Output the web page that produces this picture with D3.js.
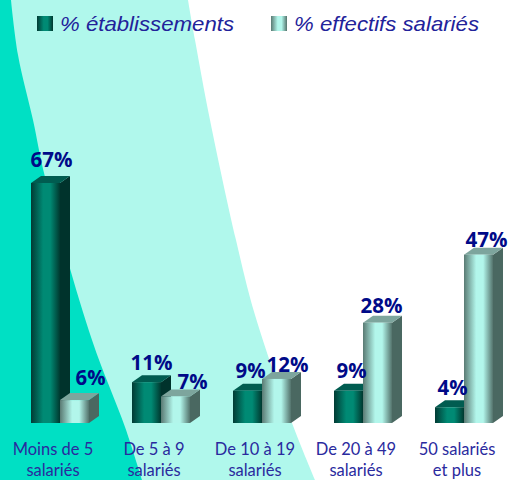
<!DOCTYPE html>
<html>
<head>
<meta charset="utf-8">
<script src="https://cdn.jsdelivr.net/npm/d3@7"></script>
<style>
  html, body { margin: 0; padding: 0; background: #fff; }
  svg { display: block; }
</style>
</head>
<body>
<div id="container"></div>
<script>
/* DATA */
const categories = ["Moins de 5 salariés", "De 5 à 9 salariés", "De 10 à 19 salariés", "De 20 à 49 salariés", "50 salariés et plus"];
const seriesNames = ["% établissements", "% effectifs salariés"];
const etablissements = [67, 11.4, 9, 9, 4.4];
const effectifs = [6.4, 7.4, 12.3, 28, 47];

/* CONSTANTS AND GLOBALS */
const width = 510,
  height = 480,
  baseY = 423,
  depthX = 10,
  depthY = 7;

const palette = [
  {stops: ["#013b34", "#008a74", "#00382f"], top: "#005c50", side: "#00332c"},
  {stops: ["#5a7a73", "#b2f6eb", "#54736c"], top: "#7da59d", side: "#4a6861"}
];

// label nudges, one per bar, the picture does not centre them
const labelDx = [[6, 16], [5, 17], [3, 11], [3, 4], [3, 8]];
const labelDy = [[16, 15], [12, 7], [13, 7], [13, 10], [12, 8]];

const svg = d3.select("#container")
  .append("svg")
  .attr("width", width)
  .attr("height", height);

/* BACKGROUND */
const curve = d3.line().curve(d3.curveCatmullRom);
const lightEdge = [[188, 0], [195, 40], [210, 120], [236, 240], [255, 315], [292, 423], [315, 480]];
const darkEdge = [[11, 0], [18, 55], [33, 120], [45, 177], [92, 340], [125, 427], [142, 480]];

svg.append("rect").attr("width", width).attr("height", height).attr("fill", "#fff");
svg.append("path")
  .attr("d", curve(lightEdge) + "L0,480L0,0Z")
  .attr("fill", "#b0f8ec");
svg.append("path")
  .attr("d", curve(darkEdge) + "L0,480L0,0Z")
  .attr("fill", "#00e0c4");

/* GRADIENTS */
const defs = svg.append("defs");
palette.forEach((p, i) => {
  const g = defs.append("linearGradient").attr("id", "front" + i);
  g.append("stop").attr("offset", "0%").attr("stop-color", p.stops[0]);
  g.append("stop").attr("offset", "42%").attr("stop-color", p.stops[1]);
  g.append("stop").attr("offset", "66%").attr("stop-color", p.stops[1]);
  g.append("stop").attr("offset", "100%").attr("stop-color", p.stops[2]);
});

/* SCALES */
const xScale = d3.scaleBand()
  .domain(categories)
  .range([9.5, 514.5]);

const barWidth = 29;
const xInner = d3.scaleBand()
  .domain([0, 1])
  .range([-barWidth, barWidth]);

const yScale = d3.scaleLinear()
  .domain([0, 67])
  .range([baseY, 183]);

/* BARS */
const drawBar = (cat, s, value) => {
  const p = palette[s];
  const x0 = xScale(cat) + xScale.bandwidth() / 2 + xInner(s);
  const x1 = x0 + xInner.bandwidth();
  const top = yScale(value);

  svg.append("path")
    .attr("d", `M${x1},${baseY}L${x1 + depthX},${baseY - depthY}L${x1 + depthX},${top - depthY}L${x1},${top}Z`)
    .attr("fill", p.side);
  svg.append("path")
    .attr("d", `M${x0},${top}L${x0 + depthX},${top - depthY}L${x1 + depthX},${top - depthY}L${x1},${top}Z`)
    .attr("fill", p.top);
  svg.append("rect")
    .attr("x", x0)
    .attr("y", top)
    .attr("width", x1 - x0)
    .attr("height", baseY - top)
    .attr("fill", `url(#front${s})`);
};

categories.forEach((cat, i) => {
  drawBar(cat, 0, etablissements[i]);
  drawBar(cat, 1, effectifs[i]);
});

/* VALUE LABELS */
categories.forEach((cat, i) => {
  [etablissements[i], effectifs[i]].forEach((v, s) => {
    svg.append("text")
      .attr("x", xScale(cat) + xScale.bandwidth() / 2 + xInner(s) + xInner.bandwidth() / 2 + labelDx[i][s])
      .attr("y", yScale(v) - labelDy[i][s])
      .attr("text-anchor", "middle")
      .attr("font-family", "'Open Sans', sans-serif")
      .attr("font-weight", 700)
      .attr("font-size", 21)
      .attr("textLength", v >= 9.5 ? 42 : 30)
      .attr("lengthAdjust", "spacingAndGlyphs")
      .attr("fill", "#000a88")
      .text(d3.format(".0f")(v) + "%");
  });
});

/* CATEGORY AXIS */
const xAxis = d3.axisBottom(xScale).tickSize(0).tickPadding(0);
const axisG = svg.append("g")
  .attr("transform", "translate(-7, 440)")
  .call(xAxis);
axisG.select(".domain").remove();
axisG.selectAll("text").each(function (d) {
  const words = d.split(" ");
  const second = d.startsWith("50") ? words.slice(2) : words.slice(-1);
  const first = words.slice(0, words.length - second.length);
  const t = d3.select(this)
    .text(null)
    .attr("y", 0)
    .attr("dy", null)
    .attr("font-family", "'Lato', sans-serif")
    .attr("font-size", 16.5)
    .attr("fill", "#2a2a9e");
  t.append("tspan").attr("x", 0).attr("y", 15).text(first.join(" "));
  t.append("tspan").attr("x", 0).attr("y", 36).text(second.join(" "));
});

/* LEGEND */
const legendX = [37, 271];
const legendWidths = [174, 185];
seriesNames.forEach((name, i) => {
  svg.append("rect")
    .attr("x", legendX[i])
    .attr("y", 16)
    .attr("width", 16)
    .attr("height", 15)
    .attr("fill", `url(#front${i})`);
  svg.append("text")
    .attr("x", legendX[i] + 23)
    .attr("y", 31)
    .attr("font-family", "'Liberation Sans', sans-serif")
    .attr("font-style", "italic")
    .attr("font-size", 21)
    .attr("textLength", legendWidths[i])
    .attr("lengthAdjust", "spacingAndGlyphs")
    .attr("fill", "#22229a")
    .text(name);
});
</script>
</body>
</html>
